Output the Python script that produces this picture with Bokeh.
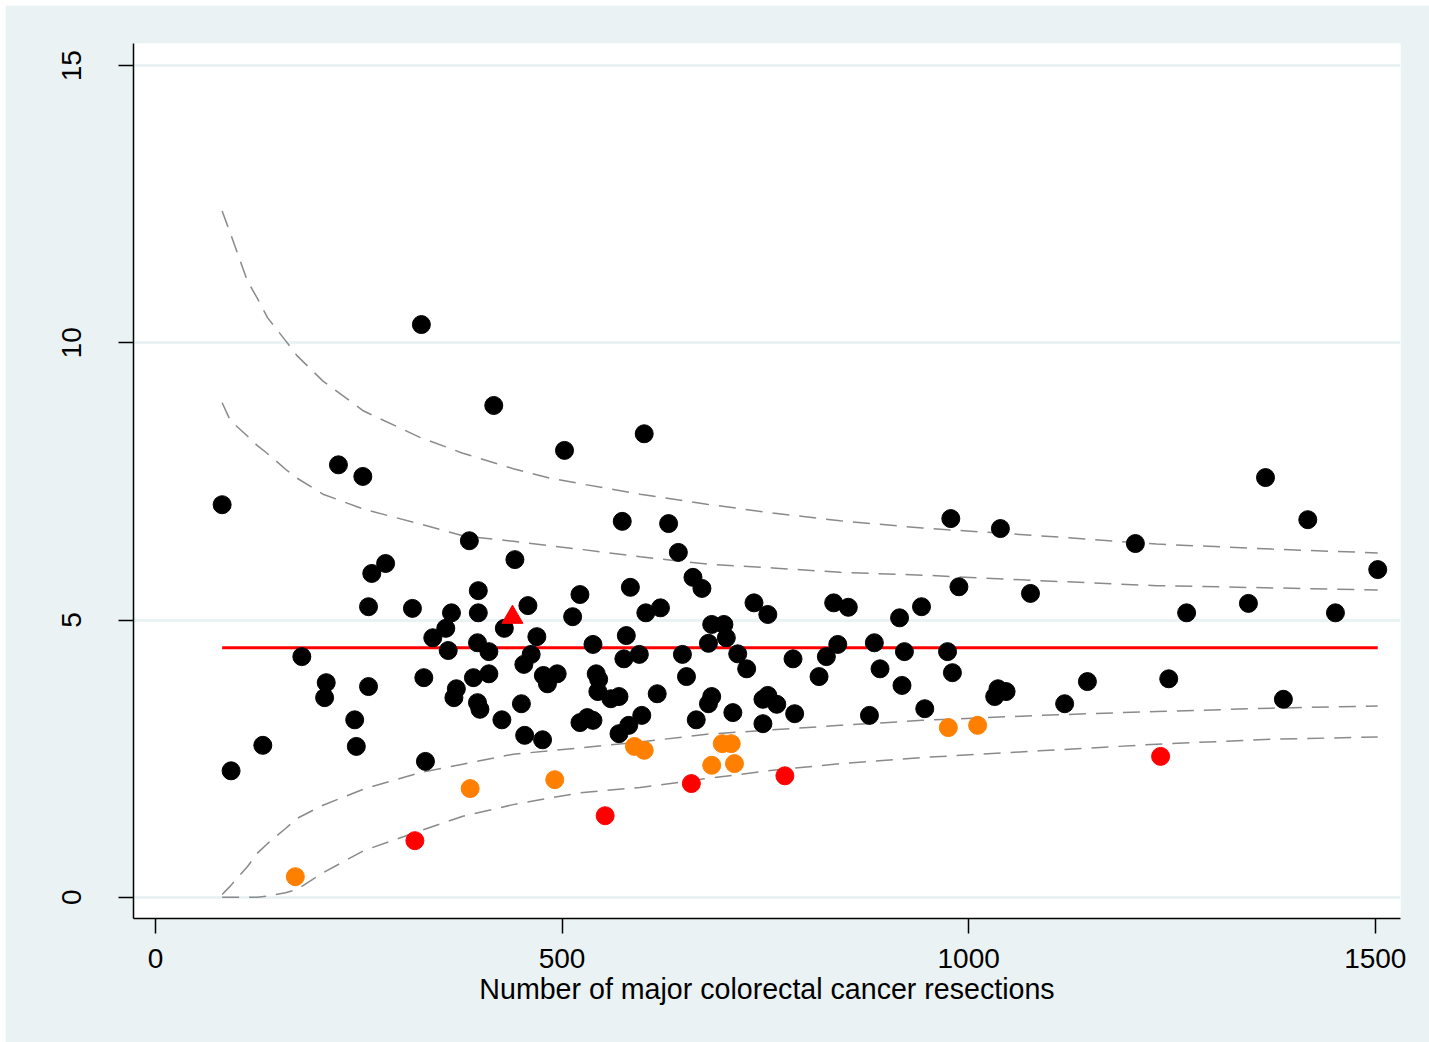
import math
from bokeh.plotting import figure
from bokeh.models import FixedTicker, Range1d
from bokeh.embed import file_html
from bokeh.resources import INLINE

# ---- data ----
black_n = [82, 93, 132, 180, 210, 208, 225, 245, 247, 255, 262, 266, 283, 262, 316, 327,
           330, 332, 341, 357, 360, 364, 367, 370, 386, 391, 397, 397, 396, 396, 399, 410,
           410, 416, 426, 429, 442, 450, 453, 454, 458, 462, 469, 476, 477, 482, 494, 503,
           513, 522, 522, 531, 538, 538, 542, 545, 544, 560, 570, 570, 574, 576, 579, 584,
           582, 598, 601, 595, 603, 617, 621, 631, 643, 648, 653, 661, 672, 665, 680, 684,
           684, 680, 699, 702, 710, 716, 727, 736, 747, 753, 753, 747, 764, 784, 786, 816,
           825, 834, 839, 852, 878, 884, 891, 915, 918, 921, 942, 946, 974, 978, 980, 988,
           1032, 1036, 1039, 1046, 1076, 1118, 1146, 1205, 1246, 1268, 1344, 1365, 1387,
           1417, 1451, 1503]
black_rate = [7.08, 2.28, 2.74, 4.34, 3.87, 3.60, 7.80, 3.20, 2.72, 7.59, 5.24, 5.84, 6.02,
              3.80, 5.21, 10.33, 3.96, 2.45, 4.68, 4.85, 4.45, 5.13, 3.60, 3.76, 6.43, 3.96,
              5.53, 5.13, 4.59, 3.51, 3.39, 4.43, 4.03, 8.87, 3.20, 4.85, 6.09, 3.49, 4.20,
              2.92, 5.26, 4.38, 4.70, 2.84, 4.00, 3.85, 4.03, 8.06, 5.06, 5.46, 3.15, 3.24,
              3.19, 4.56, 4.03, 3.93, 3.71, 3.58, 3.62, 2.95, 6.78, 4.30, 4.72, 5.59, 3.10,
              3.28, 8.36, 4.38, 5.13, 3.67, 5.22, 6.74, 6.22, 4.38, 3.98, 5.77, 5.57, 3.20,
              4.58, 4.92, 3.62, 3.49, 4.92, 4.68, 3.33, 4.39, 4.12, 5.31, 3.13, 5.10, 3.64,
              3.57, 3.48, 4.30, 3.31, 3.98, 4.34, 5.31, 4.56, 5.23, 3.28, 4.59, 4.12, 5.04,
              3.82, 4.43, 5.24, 3.40, 4.43, 6.83, 4.05, 5.60, 3.62, 3.76, 6.65, 3.71, 5.48,
              3.49, 3.89, 6.38, 3.94, 5.13, 5.30, 7.57, 3.57, 6.81, 5.13, 5.91]

orange_n = [172, 387, 491, 589, 601, 684, 697, 708, 712, 975, 1011]
orange_rate = [0.37, 1.96, 2.12, 2.72, 2.65, 2.38, 2.77, 2.77, 2.41, 3.06, 3.10]

red_n = [319, 553, 659, 774, 1236]
red_rate = [1.02, 1.47, 2.05, 2.19, 2.54]

triangle_n = [439]
triangle_rate = [5.05]

mean_n = [82, 1503]
mean_rate = [4.5, 4.5]

limit_n = [82, 92, 113, 125, 138, 160, 174, 206, 256, 326, 378, 440, 485, 526, 596, 678,
           759, 842, 943, 1087, 1231, 1373, 1503]
upper_998 = [12.38, 11.98, 11.12, 10.81, 10.45, 10.04, 9.77, 9.31, 8.77, 8.29, 8.01, 7.73,
             7.56, 7.45, 7.27, 7.09, 6.93, 6.79, 6.66, 6.52, 6.37, 6.28, 6.21]
upper_95 = [8.92, 8.60, 8.32, 8.15, 8.00, 7.72, 7.56, 7.27, 7.00, 6.73, 6.52, 6.42, 6.34,
            6.27, 6.14, 6.01, 5.94, 5.86, 5.81, 5.71, 5.62, 5.58, 5.54]
lower_95 = [0.05, 0.20, 0.55, 0.79, 0.97, 1.24, 1.42, 1.66, 1.95, 2.25, 2.40, 2.58, 2.64,
            2.70, 2.80, 2.94, 3.02, 3.10, 3.19, 3.28, 3.35, 3.41, 3.45]
lower_998 = [0.0, 0.0, 0.0, 0.0, 0.02, 0.08, 0.14, 0.44, 0.84, 1.20, 1.46, 1.67, 1.79,
             1.89, 1.98, 2.14, 2.29, 2.41, 2.52, 2.64, 2.76, 2.85, 2.89]

x_ticks = [0, 500, 1000, 1500]
y_ticks = [0, 5, 10, 15]
x_title = "Number of major colorectal cancer resections"

BG = "#EAF2F3"
FONT = "Liberation Sans"

p = figure(width=1424, height=1037, output_backend="svg", toolbar_location=None,
           x_range=Range1d(-27, 1531), y_range=Range1d(-0.384, 15.4),
           min_border_left=128, min_border_right=29, min_border_top=38,
           min_border_bottom=124, background_fill_color="white",
           border_fill_color=BG, outline_line_color=None, margin=(5, 0, 0, 5))

# axes
for ax in (p.xaxis, p.yaxis):
    ax.axis_line_color = "black"
    ax.axis_line_width = 1.5
    ax.major_tick_line_color = "black"
    ax.major_tick_line_width = 1.5
    ax.major_tick_out = 15
    ax.major_tick_in = 0
    ax.minor_tick_out = 0
    ax.minor_tick_in = 0
    ax.major_label_text_font = FONT
    ax.major_label_text_font_size = "28px"
    ax.major_label_text_color = "black"
    ax.axis_label_text_font = FONT
    ax.axis_label_text_font_size = "28.6px"
    ax.axis_label_text_font_style = "normal"
    ax.axis_label_text_color = "black"

p.xaxis.ticker = FixedTicker(ticks=x_ticks)
p.yaxis.ticker = FixedTicker(ticks=y_ticks)
p.xaxis.major_label_standoff = 15
p.xaxis.axis_label = x_title
p.xaxis.axis_label_standoff = 2
p.yaxis.major_label_orientation = "parallel"
p.yaxis.major_label_standoff = 37

p.xgrid.grid_line_color = None
p.ygrid.grid_line_color = BG
p.ygrid.grid_line_width = 3

# control limits
dash_kw = dict(line_color="#8a8a8a", line_width=1.5, line_dash="17 10")
p.line(limit_n, upper_998, **dash_kw)
p.line(limit_n, upper_95, **dash_kw)
p.line(limit_n, lower_95, **dash_kw)
p.line(limit_n, lower_998, **dash_kw)

# mean line
p.line(mean_n, mean_rate, line_color="#FF0000", line_width=3)

# points
p.scatter(black_n, black_rate, size=18, color="black")
p.scatter(orange_n, orange_rate, size=18, color="#FF8000")
p.scatter(red_n, red_rate, size=18, color="#FF0000")
p.scatter(triangle_n, triangle_rate, size=21, marker="triangle", color="#FF0000")

open("out.html", "w").write(file_html(p, INLINE))
